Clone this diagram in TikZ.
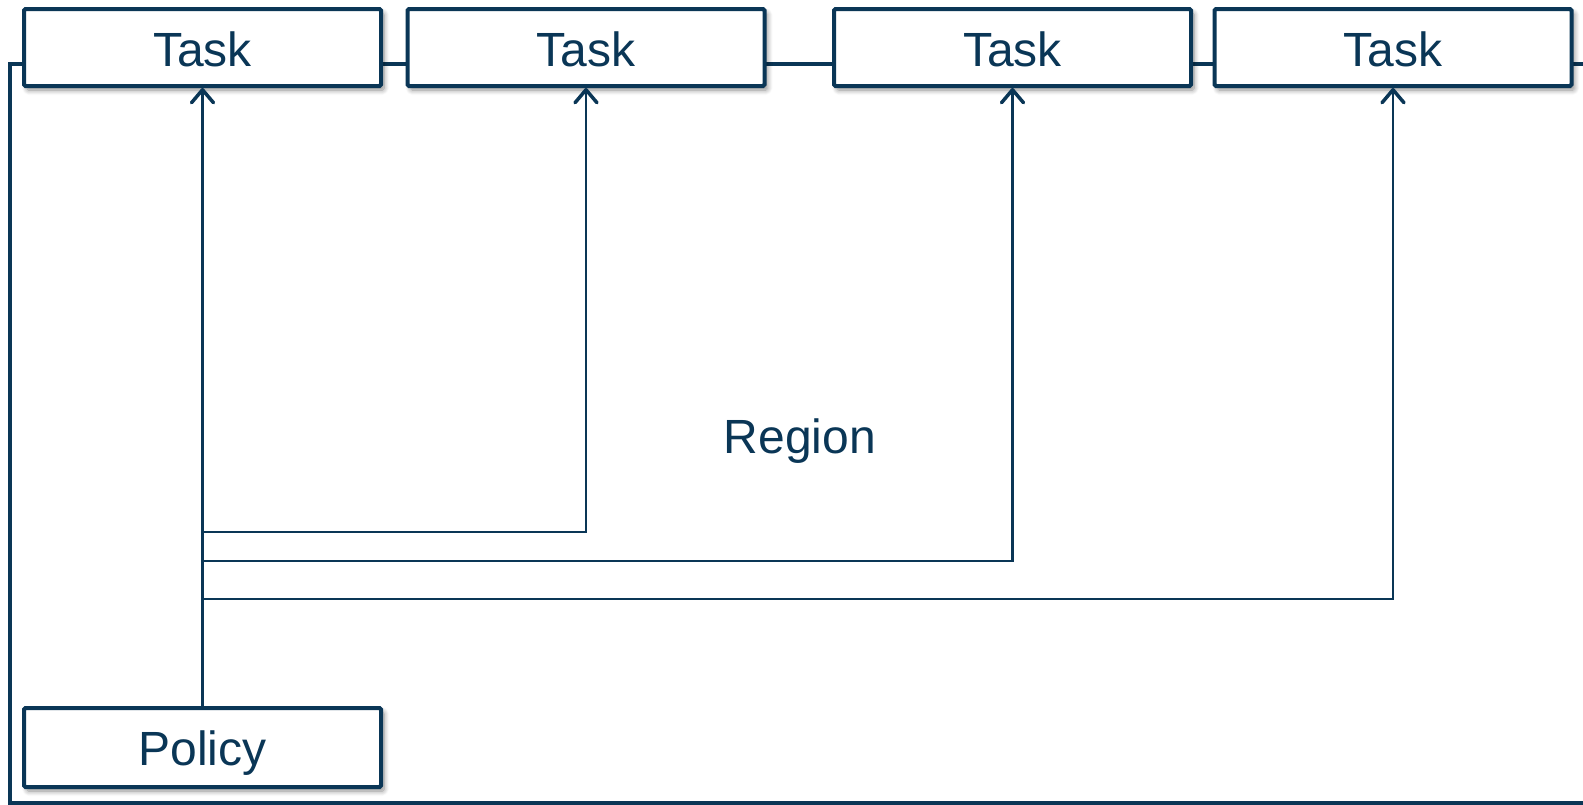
\documentclass[tikz,border=0pt]{standalone}
\usepackage{fontspec}
\setmainfont{Liberation Sans}
\usetikzlibrary{arrows.meta,shadows.blur}
\definecolor{navy}{HTML}{0A3656}
\begin{document}
\begin{tikzpicture}[x=1pt,y=-1pt,
  labelfont/.style={font=\fontsize{48}{57}\selectfont},
  box/.style={draw=navy, line width=4pt, fill=white, rounded corners=1.5pt,
    minimum width=357pt, minimum height=77pt, inner sep=0pt, text=navy, labelfont,
    text height=37pt, text depth=0pt,
    blur shadow={shadow xshift=3pt, shadow yshift=-4pt, shadow blur radius=5pt,
      shadow blur steps=8, shadow opacity=45}},
  frame/.style={draw=navy, line width=4pt, inner sep=0pt},
  conn/.style={draw=navy, line width=2.2pt},
  tip/.style={-{Straight Barb[length=13pt,width=22pt,line width=3.5pt,round]}}
]
\useasboundingbox (0,0) rectangle (1583,804);

% outer region frame (its right edge sits at the page border)
\node[frame, minimum width=1575pt, minimum height=739pt] (region) at (797.5,433.5) {};
\node[text=navy, labelfont, anchor=base] (regionlabel)
  at ([xshift=2.5pt,yshift=-19.5pt]region.center) {Region};

% task boxes along the top edge
\node[box] (task1) at (202.5,47.5) {Task};
\node[box] (task2) at (586,47.5) {Task};
\node[box] (task3) at (1012.5,47.5) {Task};
\node[box] (task4) at (1393,47.5) {Task};

% policy box
\node[box, minimum height=79pt, text height=35pt] (policy) at (202.5,747.5) {Policy};

% policy feeds every task
\coordinate (j2) at (202.5,532);
\coordinate (j3) at (202.5,561);
\coordinate (j4) at (202.5,599);
\draw[conn,tip] (policy.north) -- (task1.south);
\draw[conn,tip] (j2) -| (task2.south);
\draw[conn,tip] (j3) -| (task3.south);
\draw[conn,tip] (j4) -| (task4.south);
\end{tikzpicture}
\end{document}
